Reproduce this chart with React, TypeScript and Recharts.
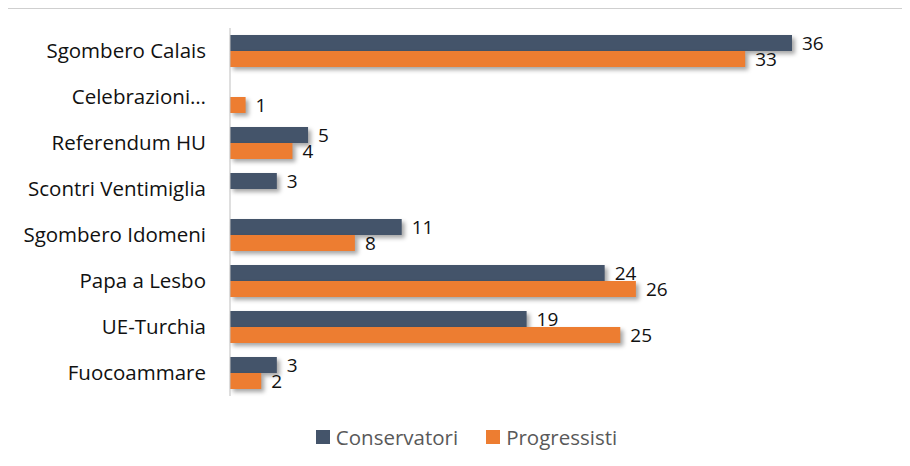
import React from 'react';
import { BarChart, Bar, XAxis, YAxis, Legend, LabelList } from 'recharts';

const categories = [
  'Sgombero Calais',
  'Celebrazioni…',
  'Referendum HU',
  'Scontri Ventimiglia',
  'Sgombero Idomeni',
  'Papa a Lesbo',
  'UE-Turchia',
  'Fuocoammare',
];
const conservatori = [36, null, 5, 3, 11, 24, 19, 3];
const progressisti = [33, 1, 4, null, 8, 26, 25, 2];

const DARK = '#44546A';
const ORANGE = '#ED7D31';
const FONT = '"Open Sans", sans-serif';

const data = categories.map((name, i) => ({
  name,
  conservatori: conservatori[i],
  progressisti: progressisti[i],
}));

function ValueLabel(props: any) {
  const { x, y, width, height, value } = props;
  if (value == null) return null;
  return (
    <text
      x={x + width + 10}
      y={y + height / 2}
      dy="0.36em"
      fontSize={19}
      fontFamily={FONT}
      fill="#111"
    >
      {value}
    </text>
  );
}

function LegendBox() {
  const item = (color: string, label: string) => (
    <div style={{ display: 'flex', alignItems: 'center' }}>
      <span style={{ width: 14, height: 14, background: color, marginRight: 6 }} />
      <span style={{ fontSize: 20.5, color: '#595959', lineHeight: '24px' }}>{label}</span>
    </div>
  );
  return (
    <div
      style={{
        height: 70,
        paddingTop: 11,
        boxSizing: 'border-box',
        display: 'flex',
        justifyContent: 'center',
        gap: 28,
        paddingLeft: 15,
        fontFamily: FONT,
      }}
    >
      {item(DARK, 'Conservatori')}
      {item(ORANGE, 'Progressisti')}
    </div>
  );
}

export default function App() {
  return (
    <div style={{ position: 'relative', marginLeft: -1, width: 903, height: 458, overflow: 'hidden' }}>
      <style>{`.recharts-bar-rectangle path { filter: drop-shadow(3px 3px 2px rgba(0,0,0,0.35)); }`}</style>
      <div
        style={{
          position: 'absolute',
          left: 0,
          top: 0,
          width: 930,
          height: 480,
          border: '1px solid #CFCFCF',
          boxSizing: 'border-box',
        }}
      />
      <div style={{ position: 'absolute', left: 1, top: 0 }}>
        <BarChart
          width={902}
          height={458}
          data={data}
          layout="vertical"
          margin={{ top: 20, right: 118, bottom: 0, left: 0 }}
          barCategoryGap={7}
          barGap={0}
        >
          <XAxis type="number" domain={[0, 36]} hide />
          <YAxis
            type="category"
            dataKey="name"
            width={222}
            tickLine={false}
            tickSize={0}
            tickMargin={24}
            axisLine={{ stroke: '#BFBFBF' }}
            tick={{ fontSize: 20.5, fill: '#111', fontFamily: FONT }}
            interval={0}
          />
          <Legend
            verticalAlign="bottom"
            wrapperStyle={{ left: 0, width: 902 }}
            content={<LegendBox />}
          />
          <Bar dataKey="conservatori" name="Conservatori" fill={DARK} isAnimationActive={false}>
            <LabelList dataKey="conservatori" content={<ValueLabel />} />
          </Bar>
          <Bar dataKey="progressisti" name="Progressisti" fill={ORANGE} isAnimationActive={false}>
            <LabelList dataKey="progressisti" content={<ValueLabel />} />
          </Bar>
        </BarChart>
      </div>
    </div>
  );
}
